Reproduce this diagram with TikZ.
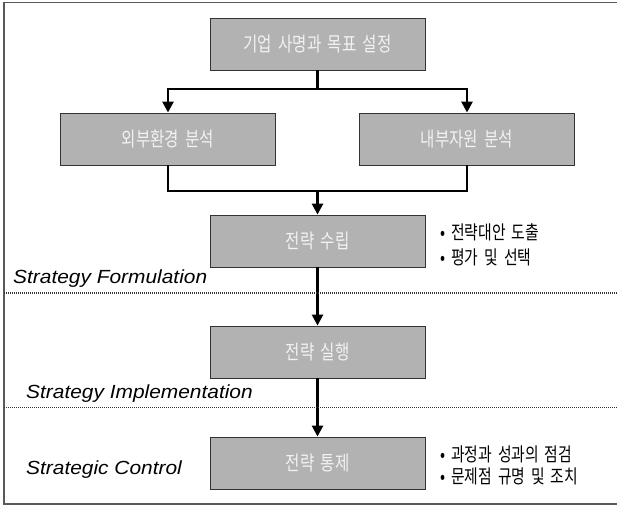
\documentclass[tikz,border=0pt]{standalone}
\usepackage{fontspec}
\setmainfont{Liberation Sans}
\newfontfamily\kr[FakeStretch=0.78,WordSpace=1.8]{Noto Sans CJK KR}
\newfontfamily\en[FakeStretch=1.1]{Liberation Sans}
\usetikzlibrary{arrows.meta}
\definecolor{boxgray}{HTML}{B2B2B2}
\definecolor{boxtext}{HTML}{F2F2F2}
\begin{document}
\begin{tikzpicture}[x=1pt,y=-1pt,
  box/.style={draw=black!80,line width=0.9pt,fill=boxgray,minimum width=215pt,minimum height=52pt,inner sep=0pt,font=\kr\fontsize{20}{20}\selectfont,text=boxtext},
  conn/.style={line width=2.6pt,black},
  arr/.style={conn,-{Triangle[width=11pt,length=11pt]}},
  note/.style={font=\kr\fontsize{19}{19}\selectfont,anchor=west,inner sep=0pt},
  phase/.style={font=\en\itshape\fontsize{19}{19}\selectfont,anchor=base west,inner sep=0pt},
  sep/.style={line width=1.6pt,black!80,dash pattern=on 1pt off 1pt}]
\useasboundingbox (0,0) rectangle (617,506);
\draw[black!65,line width=1.8pt] (620,2.5) -- (4,2.5) -- (4,504) -- (620,504);
% boxes
\node[box] (b0) at (317.5,44) {기업 사명과 목표 설정};
\node[box] (b1) at (168,139) {외부환경 분석};
\node[box] (b2) at (467,139) {내부자원 분석};
\node[box] (b3) at (317.5,241) {전략 수립};
\node[box] (b4) at (317.5,352) {전략 실행};
\node[box] (b5) at (317.5,463) {전략 통제};
% connectors
\coordinate (j1) at (317.5,89);
\coordinate (j2) at (317.5,191);
\draw[conn] (b0.south) -- (j1);
\draw[arr] (j1) -| (b1.north);
\draw[arr] (j1) -| (b2.north);
\draw[conn] (b1.south) |- (j2) -| (b2.south);
\draw[arr] (j2) -- (b3.north);
\draw[arr] (b3) -- (b4);
\draw[arr] (b4) -- (b5);
% separators
\coordinate (s1a) at (4,293); \coordinate (s1b) at (617,293);
\coordinate (s2a) at (4,407.5); \coordinate (s2b) at (617,407.5);
\draw[sep] (s1a) -- (s1b);
\draw[sep] (s2a) -- (s2b);
% notes
\node[note] (n1) at (440,232) {• 전략대안 도출};
\node[note] (n2) at (440,257) {• 평가 및 선택};
\node[note] (n3) at (440,454) {• 과정과 성과의 점검};
\node[note] (n4) at (440,476) {• 문제점 규명 및 조치};
% phases
\node[phase] (p1) at (13,283) {Strategy Formulation};
\node[phase] (p2) at (26,398) {Strategy Implementation};
\node[phase] (p3) at (26,474) {Strategic Control};
\end{tikzpicture}
\end{document}
